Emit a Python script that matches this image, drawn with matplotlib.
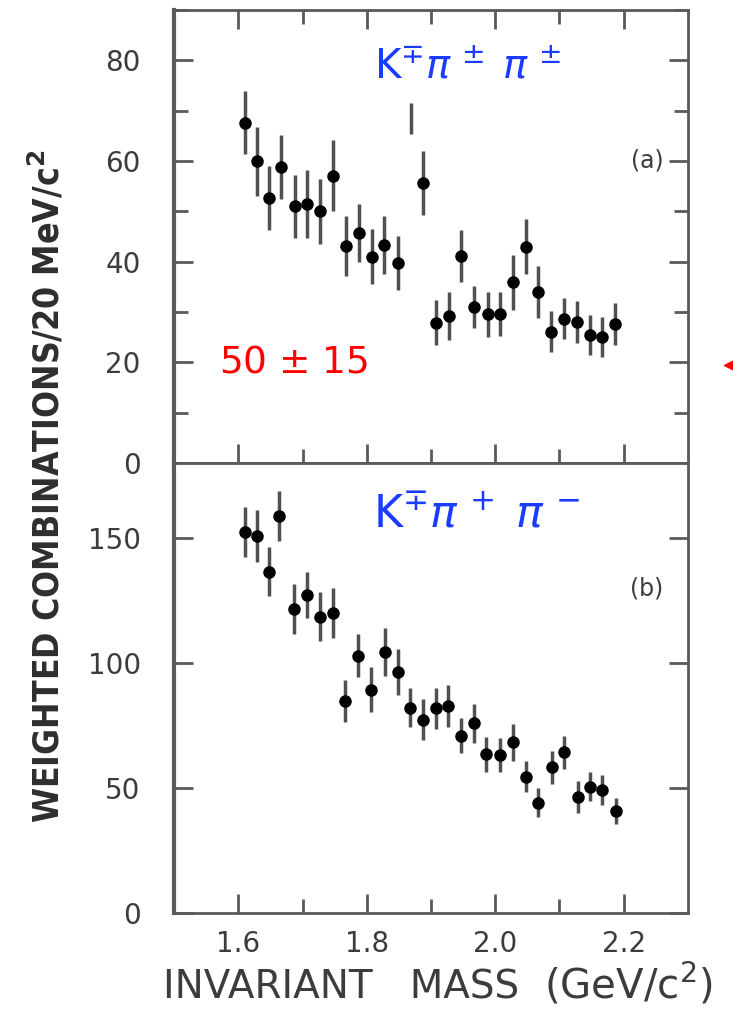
import matplotlib
matplotlib.use('Agg')
import matplotlib.pyplot as plt
from matplotlib.lines import Line2D
from matplotlib.ticker import MultipleLocator, FixedLocator

plt.rcParams['mathtext.fontset'] = 'dejavusans'
plt.rcParams['font.family'] = ['DejaVu Sans']

# (a) K-+ pi+- pi+-
mass_a = [1.610, 1.629, 1.648, 1.667, 1.688, 1.707, 1.727, 1.747, 1.767, 1.788,
          1.808, 1.827, 1.848, 1.887, 1.907, 1.928, 1.947, 1.967, 1.988, 2.008,
          2.027, 2.048, 2.067, 2.086, 2.107, 2.128, 2.148, 2.166, 2.186]
counts_a = [67.6, 59.9, 52.7, 58.8, 51.0, 51.5, 50.0, 57.1, 43.1, 45.7,
            41.0, 43.3, 39.7, 55.6, 27.9, 29.2, 41.1, 31.0, 29.5, 29.6,
            35.9, 43.0, 34.0, 26.1, 28.7, 28.0, 25.4, 25.1, 27.6]
errors_a = [6.3, 6.9, 6.4, 6.3, 6.3, 6.8, 6.5, 7.0, 6.0, 5.7,
            5.4, 5.8, 5.4, 6.3, 4.4, 4.7, 5.2, 4.1, 4.4, 4.3,
            5.5, 5.4, 5.2, 4.0, 4.0, 4.1, 4.0, 4.0, 4.1]
# marker line at the D mass
d_mass = 1.869
d_marker_range = [65.4, 71.6]

# (b) K-+ pi+ pi-
mass_b = [1.610, 1.629, 1.648, 1.664, 1.687, 1.707, 1.728, 1.747, 1.766, 1.786,
          1.807, 1.828, 1.848, 1.867, 1.888, 1.907, 1.926, 1.947, 1.967, 1.986,
          2.007, 2.027, 2.048, 2.066, 2.088, 2.107, 2.129, 2.147, 2.166, 2.188]
counts_b = [152.4, 150.7, 136.6, 158.6, 121.6, 127.3, 118.6, 120.2, 84.9, 102.9,
            89.3, 104.4, 96.4, 82.2, 77.3, 81.9, 82.9, 71.0, 75.9, 63.5,
            63.3, 68.3, 54.6, 44.2, 58.3, 64.3, 46.3, 50.6, 49.2, 40.8]
errors_b = [10.1, 10.5, 9.9, 10.0, 9.9, 9.3, 9.9, 10.0, 8.5, 8.6,
            9.0, 9.5, 9.3, 7.9, 8.2, 8.3, 8.3, 7.0, 7.7, 7.1,
            6.9, 7.5, 6.3, 5.9, 6.5, 6.7, 6.4, 5.8, 6.0, 5.2]

x_ticks = [1.6, 1.8, 2.0, 2.2]
x_tick_labels = ['1.6', '1.8', '2.0', '2.2']
y_ticks_a = [0, 20, 40, 60, 80]
y_ticks_b = [0, 50, 100, 150]

AXIS_GRAY = '#5a5a5a'
TEXT_GRAY = '#3c3c3c'
BLUE = '#1a3cff'


def style_axes(ax, ylim, yticks, minor_y=None):
    ax.set_xlim(1.5, 2.3)
    ax.set_ylim(*ylim)
    for side in ax.spines:
        ax.spines[side].set_color(AXIS_GRAY)
        ax.spines[side].set_linewidth(2.0)
    ax.spines['left'].set_linewidth(3.0)
    ax.xaxis.set_major_locator(FixedLocator(x_ticks))
    ax.xaxis.set_minor_locator(FixedLocator([1.7, 1.9, 2.1]))
    ax.yaxis.set_major_locator(FixedLocator(yticks))
    if minor_y is not None:
        ax.yaxis.set_minor_locator(MultipleLocator(minor_y))
    ax.tick_params(which='both', direction='in', color=AXIS_GRAY, width=2.0,
                   labelsize=20, labelcolor=TEXT_GRAY, right=True)
    ax.tick_params(which='major', length=14)
    ax.tick_params(which='minor', length=10)
    ax.tick_params(axis='y', pad=24)
    ax.tick_params(axis='x', pad=12)


def draw_points(ax, x, y, err):
    ax.errorbar(x, y, yerr=err, fmt='o', color='black', markersize=8,
                ecolor='#505050', elinewidth=2.5, capsize=0, zorder=3)


fig = plt.figure(figsize=(7.33, 10.18), dpi=100)
ax_a = fig.add_axes([0.2374, 0.5452, 0.7012, 0.4450])
ax_b = fig.add_axes([0.2374, 0.1031, 0.7012, 0.4421])

# panel (a)
draw_points(ax_a, mass_a, counts_a, errors_a)
ax_a.vlines(d_mass, d_marker_range[0], d_marker_range[1], color='#505050', lw=2.5)
style_axes(ax_a, (0, 90), y_ticks_a, minor_y=10)
ax_a.tick_params(axis='x', which='both', top=True, labelbottom=False)
ax_a.text(1.812, 76.3, r'$\mathrm{K}^{\mp}\pi^{\,\pm}\;\pi^{\,\pm}$',
          fontsize=29, color=BLUE, va='baseline', ha='left')
ax_a.text(1.57, 20, r'50 $\pm$ 15', fontsize=27, color='red',
          va='center', ha='left')
ax_a.text(2.236, 60, '(a)', fontsize=17, color=TEXT_GRAY, va='center', ha='center')

# panel (b)
draw_points(ax_b, mass_b, counts_b, errors_b)
style_axes(ax_b, (0, 180), y_ticks_b)
ax_b.tick_params(axis='x', which='both', top=False)
ax_b.set_xticklabels(x_tick_labels)
ax_b.text(1.809, 154.1, r'$\mathrm{K}^{\mp}\pi^{\,+}\;\pi^{\,-}$',
          fontsize=32, color=BLUE, va='baseline', ha='left')
ax_b.text(2.236, 130, '(b)', fontsize=17, color=TEXT_GRAY, va='center', ha='center')

# axis titles
fig.text(0.064, 0.522, r'WEIGHTED COMBINATIONS/20 MeV/c$^{\mathbf{2}}$',
         rotation=90, ha='center', va='center', fontsize=25.5,
         family=['DejaVu Sans'], fontstretch='condensed', fontweight='bold',
         color='#2e2e2e')
fig.text(0.222, 0.019, 'INVARIANT   MASS', fontsize=28, color=TEXT_GRAY,
         ha='left', va='baseline')
fig.text(0.742, 0.019, r'(GeV/c$^{2}$)', fontsize=29, color=TEXT_GRAY,
         ha='left', va='baseline')

# red pointer at the right edge
fig.add_artist(Line2D([0.9985], [0.6415], transform=fig.transFigure,
                      marker='<', markersize=12, color='red', linestyle='none'))

fig.savefig('out.png', dpi=100)
